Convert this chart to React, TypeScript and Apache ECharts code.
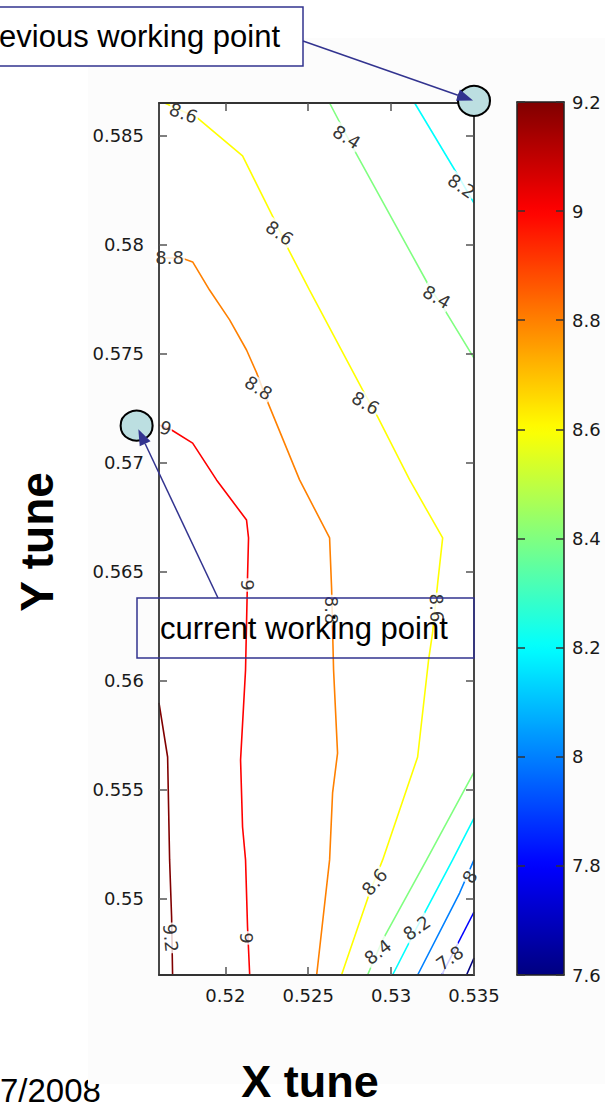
import React, { useEffect, useRef } from "react";
import * as echarts from "echarts";

// Axis ranges and tick values
const xRange = [0.516, 0.535];
const yRange = [0.5465, 0.5865];
const xTicks = [0.52, 0.525, 0.53, 0.535];
const yTicks = [0.55, 0.555, 0.56, 0.565, 0.57, 0.575, 0.58, 0.585];
const levelMin = 7.6;
const levelMax = 9.2;
const levelStep = 0.2;

// Contour paths, [X tune, Y tune]
const c92 = [[0.516, 0.55898], [0.51652, 0.5565], [0.51664, 0.55178], [0.51676, 0.54916], [0.51682, 0.5465]];
const c90 = [
  [0.516, 0.57173], [0.51676, 0.5715], [0.51803, 0.5709], [0.51947, 0.56921], [0.52128, 0.56737],
  [0.5214, 0.56655], [0.52134, 0.56476], [0.52122, 0.56049], [0.52092, 0.55636], [0.52104, 0.55329],
  [0.52122, 0.55178], [0.52134, 0.5487], [0.52147, 0.5465],
];
const c88 = [
  [0.516, 0.57939], [0.51736, 0.57939], [0.51803, 0.57921], [0.51905, 0.57792], [0.52026, 0.57655],
  [0.52128, 0.57517], [0.52189, 0.57412], [0.52255, 0.57279], [0.52448, 0.56921], [0.52629, 0.56655],
  [0.52641, 0.56425], [0.52653, 0.56049], [0.52677, 0.55668], [0.52647, 0.55485], [0.52629, 0.55178],
  [0.52551, 0.5465],
];
const c86 = [
  [0.51634, 0.5865], [0.51833, 0.58581], [0.52104, 0.58407], [0.52297, 0.58113], [0.52376, 0.57985],
  [0.52508, 0.57792], [0.52828, 0.57334], [0.52919, 0.5721], [0.53112, 0.56921], [0.53311, 0.56655],
  [0.53281, 0.56448], [0.5325, 0.56219], [0.53226, 0.56095], [0.5316, 0.5565], [0.52949, 0.55178],
  [0.5287, 0.55026], [0.52701, 0.5465],
];
const c84Upper = [[0.52629, 0.5865], [0.52768, 0.58448], [0.53232, 0.57806], [0.53323, 0.57701], [0.535, 0.5748]];
const c84Lower = [[0.535, 0.55581], [0.53214, 0.55178], [0.52949, 0.54811], [0.52858, 0.5465]];
const c82Upper = [[0.53142, 0.5865], [0.53395, 0.58329], [0.535, 0.58191]];
const c82Lower = [[0.535, 0.5537], [0.53371, 0.55178], [0.53154, 0.54866], [0.53009, 0.5465]];
const c80 = [[0.535, 0.55178], [0.53413, 0.55026], [0.5316, 0.5465]];
const c78 = [[0.535, 0.54939], [0.53305, 0.5465]];
const c76 = [[0.535, 0.54728], [0.53455, 0.5465]];

const contours = [
  { level: 9.2, path: c92 },
  { level: 9, path: c90 },
  { level: 8.8, path: c88 },
  { level: 8.6, path: c86 },
  { level: 8.4, path: c84Upper },
  { level: 8.4, path: c84Lower },
  { level: 8.2, path: c82Upper },
  { level: 8.2, path: c82Lower },
  { level: 8, path: c80 },
  { level: 7.8, path: c78 },
  { level: 7.6, path: c76 },
];

// Inline contour labels: [level, X tune, Y tune]
const contourLabels = [
  [8.6, 0.51748, 0.58604],
  [8.4, 0.52732, 0.58494],
  [8.2, 0.53425, 0.58269],
  [8.6, 0.52327, 0.58054],
  [8.8, 0.51664, 0.57939],
  [8.4, 0.53275, 0.5776],
  [8.8, 0.52201, 0.57343],
  [8.6, 0.52846, 0.57274],
  [9, 0.5164, 0.57159],
  [9, 0.52134, 0.56439],
  [8.8, 0.52641, 0.56324],
  [8.6, 0.53275, 0.56334],
  [9.2, 0.5167, 0.5482],
  [9, 0.52128, 0.5482],
  [8.6, 0.529, 0.55077],
  [8.4, 0.52919, 0.54756],
  [8.2, 0.53154, 0.54866],
  [8, 0.53474, 0.551],
  [7.8, 0.53353, 0.54728],
];
const labelAngles = [-20, -32, -35, -35, 0, -30, -33, -30, -15, -90, -90, -88, -85, -90, 50, 38, 35, 60, 35];

// Working points
const previousPoint = [0.535, 0.5866];
const currentPoint = [0.51465, 0.5717];

// Jet colormap stops spanning levelMin..levelMax
const jetStops = ["#000080", "#0000ff", "#0080ff", "#00ffff", "#80ff80", "#ffff00", "#ff8000", "#ff0000", "#800000"];

function hexToRgb(h: string) {
  return [parseInt(h.slice(1, 3), 16), parseInt(h.slice(3, 5), 16), parseInt(h.slice(5, 7), 16)];
}

function jet(v: number): string {
  const t = ((v - levelMin) / (levelMax - levelMin)) * (jetStops.length - 1);
  const i = Math.max(0, Math.min(jetStops.length - 2, Math.floor(t + 1e-9)));
  const f = Math.max(0, Math.min(1, t - i));
  const a = hexToRgb(jetStops[i]);
  const b = hexToRgb(jetStops[i + 1]);
  const c = a.map((x, k) => Math.round(x + (b[k] - x) * f));
  return `rgb(${c[0]},${c[1]},${c[2]})`;
}

const fmt = (v: number) => String(parseFloat(Number(v).toFixed(4)));

const NAVY = "#32338f";
const TICK_FONT = "DejaVu Sans";

function arrow(from: number[], tip: number[], color: string) {
  const dx = tip[0] - from[0];
  const dy = tip[1] - from[1];
  const len = Math.hypot(dx, dy);
  const ux = dx / len;
  const uy = dy / len;
  const L = 16;
  const W = 6;
  const bx = tip[0] - ux * L;
  const by = tip[1] - uy * L;
  return [
    {
      type: "line",
      z: 20,
      shape: { x1: from[0], y1: from[1], x2: bx, y2: by },
      style: { stroke: color, lineWidth: 1.5 },
    },
    {
      type: "polygon",
      z: 20,
      shape: {
        points: [
          [tip[0], tip[1]],
          [bx - uy * W, by + ux * W],
          [bx + uy * W, by - ux * W],
        ],
      },
      style: { fill: color },
    },
  ];
}

export default function App() {
  const ref = useRef<HTMLDivElement>(null);

  useEffect(() => {
    if (!ref.current) return;
    const chart = echarts.init(ref.current, undefined, { renderer: "svg" });

    const axisLine = { show: true, onZero: false, lineStyle: { color: "#333", width: 1.8 } };
    const tickStyle = { color: "#555", width: 1.5 };

    const lineSeries = contours.map((c) => ({
      type: "line",
      xAxisIndex: 0,
      yAxisIndex: 0,
      data: c.path,
      symbol: "none",
      showSymbol: false,
      silent: true,
      z: 2,
      lineStyle: { color: jet(c.level), width: 1.6 },
      itemStyle: { color: jet(c.level) },
    }));

    const labelSeries = {
      type: "scatter",
      xAxisIndex: 0,
      yAxisIndex: 0,
      symbolSize: 0,
      silent: true,
      z: 3,
      data: contourLabels.map((l, i) => ({
        name: String(l[0]),
        value: [l[1], l[2]],
        label: { rotate: labelAngles[i] },
      })),
      label: {
        show: true,
        position: "inside",
        align: "center",
        verticalAlign: "middle",
        formatter: (p: any) => p.name,
        fontFamily: TICK_FONT,
        fontSize: 18,
        color: "#000",
        backgroundColor: "#fff",
        padding: [0, 1],
      },
    };

    const pointSeries = {
      type: "scatter",
      xAxisIndex: 0,
      yAxisIndex: 0,
      clip: false,
      silent: true,
      z: 8,
      symbol: "circle",
      symbolSize: [32, 30],
      itemStyle: { color: "#bcdfe1", borderColor: "#000", borderWidth: 2, opacity: 1 },
      data: [previousPoint, currentPoint],
    };

    const colorbarSeries = {
      type: "scatter",
      xAxisIndex: 2,
      yAxisIndex: 2,
      data: [],
      silent: true,
    };

    const series: any[] = [...lineSeries, labelSeries, pointSeries, colorbarSeries];
    const colorbarIndex = series.length - 1;

    const option: any = {
      animation: false,
      backgroundColor: "#ffffff",
      textStyle: { fontFamily: TICK_FONT },
      grid: [
        { left: 159, top: 103, width: 315, height: 872, show: true, backgroundColor: "#fff", borderWidth: 0, z: 0 },
        { left: 517, top: 102, width: 47, height: 873, show: false },
      ],
      xAxis: [
        {
          type: "value", gridIndex: 0, position: "bottom", min: xRange[0], max: xRange[1], z: 5,
          axisLine,
          axisTick: { show: true, inside: true, length: 8, customValues: xTicks, lineStyle: tickStyle },
          axisLabel: { show: true, customValues: xTicks, margin: 11, fontSize: 18, color: "#1a1a1a", fontFamily: TICK_FONT, formatter: fmt },
          splitLine: { show: false },
        },
        {
          type: "value", gridIndex: 0, position: "top", min: xRange[0], max: xRange[1], z: 5,
          axisLine,
          axisTick: { show: true, inside: true, length: 8, customValues: xTicks, lineStyle: tickStyle },
          axisLabel: { show: false },
          splitLine: { show: false },
        },
        {
          type: "value", gridIndex: 1, position: "bottom", min: 0, max: 1, z: 5,
          axisLine: { show: true, onZero: false, lineStyle: { color: "#222", width: 1.5 } },
          axisTick: { show: false }, axisLabel: { show: false }, splitLine: { show: false },
        },
        {
          type: "value", gridIndex: 1, position: "top", min: 0, max: 1, z: 5,
          axisLine: { show: true, onZero: false, lineStyle: { color: "#222", width: 1.5 } },
          axisTick: { show: false }, axisLabel: { show: false }, splitLine: { show: false },
        },
      ],
      yAxis: [
        {
          type: "value", gridIndex: 0, position: "left", min: yRange[0], max: yRange[1], z: 5,
          axisLine,
          axisTick: { show: true, inside: true, length: 8, customValues: yTicks, lineStyle: tickStyle },
          axisLabel: { show: true, customValues: yTicks, margin: 15, fontSize: 18, color: "#1a1a1a", fontFamily: TICK_FONT, formatter: fmt },
          splitLine: { show: false },
        },
        {
          type: "value", gridIndex: 0, position: "right", min: yRange[0], max: yRange[1], z: 5,
          axisLine,
          axisTick: { show: true, inside: true, length: 8, customValues: yTicks, lineStyle: tickStyle },
          axisLabel: { show: false },
          splitLine: { show: false },
        },
        {
          type: "value", gridIndex: 1, position: "right", min: levelMin, max: levelMax, interval: levelStep, z: 5,
          axisLine: { show: true, onZero: false, lineStyle: { color: "#222", width: 1.5 } },
          axisTick: { show: true, inside: true, length: 8, lineStyle: { color: "#333", width: 1.5 } },
          axisLabel: { show: true, margin: 8, fontSize: 18, color: "#1a1a1a", fontFamily: TICK_FONT },
          splitLine: { show: false },
        },
        {
          type: "value", gridIndex: 1, position: "left", min: levelMin, max: levelMax, interval: levelStep, z: 5,
          axisLine: { show: true, onZero: false, lineStyle: { color: "#222", width: 1.5 } },
          axisTick: { show: true, inside: true, length: 8, lineStyle: { color: "#333", width: 1.5 } },
          axisLabel: { show: false },
          splitLine: { show: false },
        },
      ],
      visualMap: [
        {
          type: "continuous",
          min: levelMin,
          max: levelMax,
          seriesIndex: [colorbarIndex],
          orient: "vertical",
          left: 517,
          top: 102,
          itemWidth: 47,
          itemHeight: 873,
          padding: 0,
          calculable: false,
          hoverLink: false,
          showLabel: false,
          z: 1,
          inRange: { color: jetStops },
        },
      ],
      series,
    };

    chart.setOption(option);

    const prev = chart.convertToPixel({ xAxisIndex: 0, yAxisIndex: 0 }, previousPoint) as number[];
    const curr = chart.convertToPixel({ xAxisIndex: 0, yAxisIndex: 0 }, currentPoint) as number[];

    const prevFrom = [303, 41];
    const currFrom = [218, 598];
    const towards = (p: number[], from: number[], d: number) => {
      const dx = from[0] - p[0];
      const dy = from[1] - p[1];
      const l = Math.hypot(dx, dy);
      return [p[0] + (dx / l) * d, p[1] + (dy / l) * d];
    };

    const graphic: any[] = [
      {
        type: "text",
        z: -2,
        x: 0,
        y: 1090,
        style: { text: "7/2008", fontFamily: "Liberation Sans", fontSize: 33, fill: "#000", align: "left", verticalAlign: "middle" },
      },
      {
        type: "rect",
        z: -1,
        shape: { x: 88, y: 38, width: 517, height: 1046 },
        style: { fill: "#fcfcfc" },
      },
      {
        type: "rect",
        z: 15,
        shape: { x: -60, y: 7, width: 363, height: 59 },
        style: { fill: "#fff", stroke: NAVY, lineWidth: 1.5 },
      },
      {
        type: "text",
        z: 16,
        x: 280,
        y: 36,
        style: { text: "previous working point", fontFamily: "Liberation Sans", fontSize: 31, fill: "#000", align: "right", verticalAlign: "middle" },
      },
      {
        type: "rect",
        z: 15,
        shape: { x: 137, y: 598, width: 337, height: 60 },
        style: { fill: "none", stroke: NAVY, lineWidth: 1.5 },
      },
      {
        type: "text",
        z: 16,
        x: 160,
        y: 628,
        style: { text: "current working point", fontFamily: "Liberation Sans", fontSize: 31, fill: "#000", align: "left", verticalAlign: "middle" },
      },
      ...arrow(prevFrom, towards(prev, prevFrom, 1), NAVY),
      ...arrow(currFrom, towards(curr, currFrom, 4), NAVY),
      {
        type: "text",
        z: 16,
        x: 37,
        y: 542,
        rotation: Math.PI / 2,
        style: { text: "Y tune", fontFamily: "Liberation Sans", fontWeight: "bold", fontSize: 46, fill: "#000", align: "center", verticalAlign: "middle" },
      },
      {
        type: "text",
        z: 16,
        x: 310,
        y: 1081,
        style: { text: "X tune", fontFamily: "Liberation Sans", fontWeight: "bold", fontSize: 45, fill: "#000", align: "center", verticalAlign: "middle" },
      },
    ];

    chart.setOption({ graphic });

    return () => chart.dispose();
  }, []);

  return (
    <div
      ref={ref}
      style={{ position: "absolute", left: 0, top: 0, width: 605, height: 1108 }}
    />
  );
}
